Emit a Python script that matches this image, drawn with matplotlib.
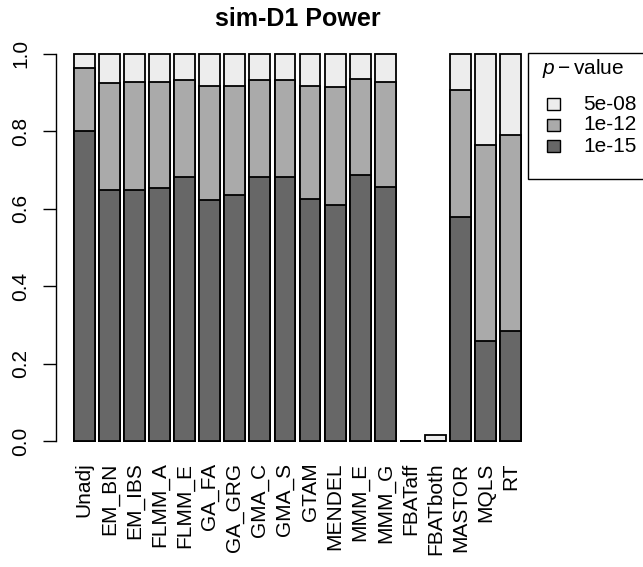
#%%
import matplotlib
matplotlib.use('Agg')
import matplotlib.pyplot as plt
from matplotlib.patches import Rectangle
import numpy as np

plt.rcParams['font.family'] = ['Liberation Sans', 'DejaVu Sans']
plt.rcParams['mathtext.fontset'] = 'custom'
plt.rcParams['mathtext.rm'] = 'Liberation Sans'
plt.rcParams['mathtext.it'] = 'Liberation Sans:italic'

#%% Potencia por metodo, acumulada para cada umbral de p-valor

methods = ['Unadj', 'EM_BN', 'EM_IBS', 'FLMM_A', 'FLMM_E', 'GA_FA', 'GA_GRG',
           'GMA_C', 'GMA_S', 'GTAM', 'MENDEL', 'MMM_E', 'MMM_G', 'FBATaff',
           'FBATboth', 'MASTOR', 'MQLS', 'RT']

pow_5e08 = [0.998, 1.0, 1.0, 1.0, 1.0, 1.0, 1.0, 1.0, 1.0, 1.0, 1.0, 1.0, 1.0,
            0.0, 0.017, 1.0, 1.0, 1.0]
pow_1e12 = [0.963, 0.924, 0.926, 0.926, 0.933, 0.917, 0.917, 0.933, 0.933,
            0.917, 0.914, 0.934, 0.926, 0.0, 0.0, 0.906, 0.763, 0.791]
pow_1e15 = [0.800, 0.648, 0.647, 0.653, 0.681, 0.622, 0.635, 0.681, 0.681,
            0.626, 0.610, 0.686, 0.655, 0.0, 0.0, 0.579, 0.258, 0.286]

thr_labels = ['5e-08', '1e-12', '1e-15']
colores = ['#ededed', '#aaaaaa', '#676767']

#%%
W, H = 643, 567
fig = plt.figure(figsize=(W / 100, H / 100), dpi=100)
ax = fig.add_axes([56 / W, 1 - 457 / H, (539 - 56) / W, (457 - 38) / H])

x = 0.7 + 1.2 * np.arange(len(methods))
for vals, col in zip([pow_5e08, pow_1e12, pow_1e15], colores):
    ax.bar(x, vals, width=1.0, color=col, edgecolor='black', linewidth=1.3)

ax.set_xlim(0.2 - 0.856, 21.6 + 0.856)
ax.set_ylim(-0.04, 1.04)
for s in ['top', 'right', 'bottom']:
    ax.spines[s].set_visible(False)
ax.spines['left'].set_bounds(0, 1)
ax.spines['left'].set_linewidth(1.0)

ax.set_yticks([0, 0.2, 0.4, 0.6, 0.8, 1.0])
ax.set_yticklabels(['0.0', '0.2', '0.4', '0.6', '0.8', '1.0'],
                   rotation=90, va='center', fontsize=15)
ax.tick_params(axis='y', length=9.4, width=1.0, pad=9)

ax.set_xticks(x)
ax.set_xticklabels(methods, rotation=90, fontsize=15)
ax.tick_params(axis='x', length=0, pad=4)

fig.text(297.5 / W, 1 - 19 / H, 'sim-D1 Power', ha='center', va='center',
         fontsize=18, fontweight='bold')

# leyenda dibujada a mano, como en R (se sale del borde derecho)
fig.patches.append(Rectangle((528 / W, 1 - 179 / H), 130 / W, 126 / H,
                             transform=fig.transFigure, facecolor='white',
                             edgecolor='black', linewidth=1.0))
fig.text(542 / W, 1 - 69 / H, r'$p - \mathrm{value}$', ha='left',
         va='center', fontsize=15)
for k, (lab, col) in enumerate(zip(thr_labels, colores)):
    yc = 104 + 21 * k
    fig.patches.append(Rectangle((547 / W, 1 - (yc + 6) / H), 13 / W, 12 / H,
                                 transform=fig.transFigure, facecolor=col,
                                 edgecolor='black', linewidth=1.0))
    fig.text(583 / W, 1 - yc / H, lab, ha='left', va='center', fontsize=15)

plt.savefig('out.png', dpi=100)
